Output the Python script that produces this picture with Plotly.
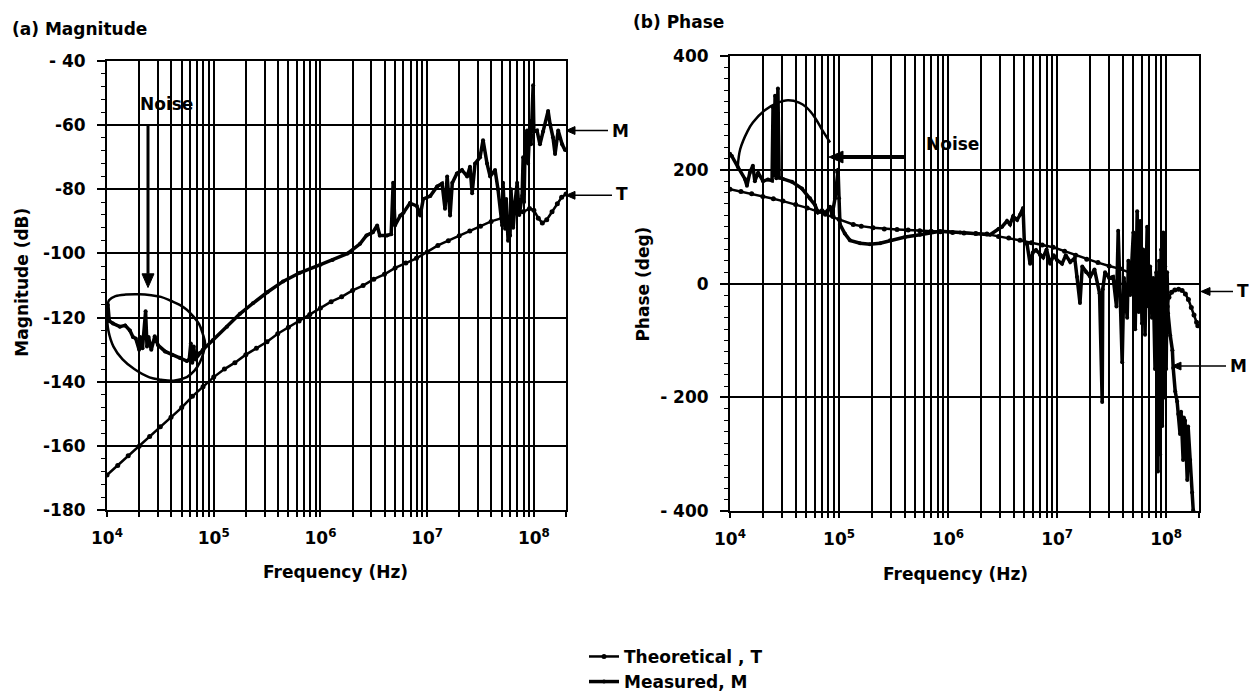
import plotly.graph_objects as go

# ---------------- data ----------------
# (a) Magnitude, theoretical T
magT_f = [1.0e4, 1.26e4, 1.58e4, 2.0e4, 2.51e4, 3.16e4, 3.98e4, 5.01e4, 6.31e4, 7.94e4,
          1.0e5, 1.26e5, 1.58e5, 2.0e5, 2.51e5, 3.16e5, 3.98e5, 5.01e5, 6.31e5, 7.94e5,
          1.0e6, 1.26e6, 1.58e6, 2.0e6, 2.51e6, 3.16e6, 3.98e6, 5.01e6, 6.31e6, 7.94e6,
          1.0e7, 1.26e7, 1.58e7, 2.0e7, 2.51e7, 3.16e7, 3.98e7, 5.01e7, 6.31e7, 7.94e7,
          9.1e7, 1.0e8, 1.1e8, 1.2e8, 1.32e8, 1.48e8, 1.66e8, 1.82e8, 2.0e8]
magT_db = [-169, -166, -163, -160, -157, -154, -151, -148, -144.5, -141.5,
           -138.5, -136, -134, -131.5, -129.5, -127.5, -125, -123, -121, -119,
           -117, -115, -113.5, -111.5, -110, -108, -106.5, -104.5, -103, -101.5,
           -99.5, -97.5, -96, -94.5, -93, -91.5, -90, -89, -88, -87,
           -86, -86.5, -89, -90.5, -89.5, -87, -84.5, -82.5, -81.5]

# (a) Magnitude, measured M
magM_f = [1.0e4, 1.02e4, 1.05e4, 1.14e4, 1.32e4, 1.48e4, 1.64e4, 1.75e4, 1.86e4, 2.0e4,
          2.05e4, 2.15e4, 2.3e4, 2.37e4, 2.45e4, 2.6e4, 2.8e4, 3.0e4, 3.5e4, 4.1e4,
          4.8e4, 5.6e4, 5.9e4, 6.1e4, 6.3e4, 6.5e4, 6.7e4, 7.4e4, 7.9e4, 9.8e4,
          1.33e5, 1.76e5, 2.33e5, 3.2e5, 4.46e5, 6.4e5, 1.0e6, 1.3e6, 1.8e6, 2.35e6,
          2.7e6, 3.1e6, 3.4e6, 3.6e6, 4.2e6, 4.6e6, 4.8e6, 5.0e6, 5.6e6, 6.0e6,
          6.9e6, 8.0e6, 8.6e6, 9.2e6, 1.07e7, 1.24e7, 1.38e7, 1.47e7, 1.54e7, 1.64e7,
          1.72e7, 1.9e7, 2.12e7, 2.37e7, 2.52e7, 2.64e7, 2.81e7, 3.13e7, 3.34e7, 3.64e7,
          3.89e7, 4.33e7, 4.61e7, 5.04e7, 5.14e7, 5.37e7, 5.5e7, 5.73e7, 5.98e7, 6.1e7,
          6.4e7, 6.67e7, 6.97e7, 7.3e7, 7.76e7, 7.93e7, 8.1e7, 8.28e7, 8.63e7, 8.83e7,
          9.2e7, 9.4e7, 9.62e7, 9.84e7, 1.0e8, 1.07e8, 1.14e8, 1.22e8, 1.33e8, 1.36e8,
          1.42e8, 1.51e8, 1.58e8, 1.69e8, 1.84e8, 1.96e8]
magM_db = [-118, -116, -121, -121.8, -122.8, -122.4, -124, -126, -126.5, -130,
           -126, -129.5, -118, -129, -126, -130, -125.8, -128.5, -130.5, -131.6,
           -132.5, -133.5, -133, -128, -134, -129, -133, -131, -130, -127,
           -122.8, -118.8, -115.5, -112, -108.7, -106, -103.5, -102, -100, -97,
           -94.4, -93.4, -91.3, -94.4, -94.4, -94, -78, -91.3, -88.2, -87.3,
           -84.3, -85.2, -88.2, -83, -82.1, -79.1, -78.2, -86.1, -76, -88.2,
           -78, -75.1, -74, -76, -73, -81.2, -72, -70, -64.7, -72,
           -76, -74, -80, -91.3, -78, -92.3, -83, -96, -94.4, -80,
           -92, -84, -78, -88, -82, -70, -84, -65, -61.7, -72,
           -58.7, -66, -58.7, -47.6, -62, -61.7, -66, -62, -57.7, -55.6,
           -59.8, -63.8, -69, -61.7, -66, -67.8]

# hand-drawn "noise" loop on the magnitude plot
magLoop_f = [1.0e4, 1.05e4, 1.2e4, 1.5e4, 2.0e4, 2.6e4, 3.2e4, 4.0e4, 4.8e4, 5.6e4,
             6.4e4, 7.3e4, 7.9e4, 8.3e4, 8.0e4, 7.4e4, 6.6e4, 5.6e4, 4.2e4, 3.2e4,
             2.5e4, 1.8e4, 1.4e4, 1.15e4, 1.03e4, 1.0e4]
magLoop_db = [-117, -114.5, -113.3, -112.8, -112.7, -113, -113.5, -114.8, -116, -117.5,
              -119.5, -122, -125, -128, -131, -134, -136.5, -138.5, -139.6, -139.3,
              -138.6, -136, -133, -129, -124, -119]

# (b) Phase, theoretical T
phT_f = [1.0e4, 1.26e4, 1.58e4, 2.0e4, 2.5e4, 3.06e4, 4.0e4, 5.1e4, 6.3e4, 7.5e4,
         8.8e4, 1.0e5, 1.35e5, 1.6e5, 2.05e5, 2.6e5, 3.4e5, 4.3e5, 5.5e5, 7.0e5,
         8.5e5, 1.1e6, 1.4e6, 1.8e6, 2.27e6, 2.9e6, 3.6e6, 4.57e6, 5.8e6, 7.3e6,
         9.2e6, 1.17e7, 1.48e7, 1.87e7, 2.37e7, 3.0e7, 3.77e7, 4.7e7, 5.75e7, 6.6e7,
         7.6e7, 8.3e7, 9.0e7, 9.6e7, 1.0e8, 1.02e8, 1.06e8, 1.12e8, 1.2e8, 1.3e8,
         1.4e8, 1.5e8, 1.6e8, 1.7e8, 1.8e8, 1.9e8, 1.95e8]
phT_deg = [166, 162, 158, 153, 149, 145, 139, 133, 127, 122,
           118, 113, 104, 101, 98, 96, 95, 94, 93, 92,
           91, 90, 89, 88, 87, 83, 80, 76, 72, 68,
           64, 57, 50, 43, 37, 31, 26, 19, 12, 6,
           0, -20, -45, -65, -70, -40, -24, -15, -11, -10,
           -12, -18, -28, -42, -55, -68, -74]

# (b) Phase, measured M
phM_f = [1.0e4, 1.04e4, 1.18e4, 1.37e4, 1.43e4, 1.52e4, 1.62e4, 1.69e4, 1.81e4, 2.01e4,
         2.23e4, 2.43e4, 2.48e4, 2.52e4, 2.59e4, 2.66e4, 2.75e4, 2.82e4, 3.06e4, 3.7e4,
         4.57e4, 5.42e4, 6.03e4, 6.41e4, 6.98e4, 7.44e4, 7.76e4, 8.27e4, 8.63e4, 9.19e4,
         9.6e4, 9.8e4, 1.0e5, 1.02e5, 1.13e5, 1.26e5, 1.56e5, 1.92e5, 2.38e5, 2.94e5,
         4.03e5, 5.53e5, 8.45e5, 1.29e6, 1.77e6, 2.43e6, 2.9e6, 3.13e6, 3.47e6, 3.7e6,
         3.94e6, 4.3e6, 4.57e6, 4.87e6, 5.0e6, 5.3e6, 5.65e6, 6.0e6, 6.4e6, 7.0e6,
         7.45e6, 8.0e6, 8.63e6, 9.3e6, 1.0e7, 1.11e7, 1.2e7, 1.32e7, 1.45e7, 1.52e7,
         1.62e7, 1.7e7, 1.85e7, 2.01e7, 2.2e7, 2.45e7, 2.59e7, 2.62e7, 2.75e7, 3.0e7,
         3.26e7, 3.5e7, 3.63e7, 3.75e7, 3.95e7, 4.1e7, 4.39e7, 4.5e7, 4.67e7, 5.0e7,
         5.2e7, 5.42e7, 5.6e7, 5.77e7, 6.0e7, 6.15e7, 6.4e7, 6.69e7, 6.9e7, 7.13e7,
         7.4e7, 7.6e7, 7.9e7, 8.1e7, 8.25e7, 8.4e7, 8.6e7, 8.8e7, 9.0e7, 9.2e7,
         9.4e7, 9.6e7, 9.8e7, 1.0e8, 1.02e8, 1.04e8, 1.09e8, 1.14e8, 1.16e8, 1.21e8,
         1.26e8, 1.29e8, 1.34e8, 1.37e8, 1.43e8, 1.45e8, 1.49e8, 1.56e8, 1.59e8, 1.66e8,
         1.73e8, 1.77e8]
phM_deg = [228, 224, 205, 184, 172, 195, 207, 180, 195, 180,
           183, 181, 310, 190, 330, 185, 343, 186, 184, 179,
           167, 150, 138, 125, 129, 124, 127, 135, 120, 150,
           196, 200, 150, 104, 88, 76, 71, 69, 71, 76,
           82, 86, 92, 90, 88, 86, 96, 100, 110, 104,
           118, 112, 121, 133, 75, 69, 35, 55, 59, 50,
           46, 60, 35, 50, 41, 35, 50, 38, 45, 12,
           -34, 30, 20, 12, 25, -17, -208, -10, 20, 10,
           12, -40, 93, 0, -138, 10, -60, 40, -20, 90,
           -80, 127, -50, 110, -70, 60, -90, 100, -40, 30,
           -60, 10, -150, 20, -250, -330, 40, -300, 60, -250,
           90, -200, 30, -150, 20, -52, -91, -117, -148, -189,
           -207, -229, -264, -225, -310, -235, -241, -345, -251, -310,
           -367, -398]

# hand-drawn "noise" arc on the phase plot
phLoop_f = [1.18e4, 1.24e4, 1.45e4, 1.62e4, 2.1e4, 2.7e4, 3.4e4, 4.3e4, 5.0e4, 6.0e4, 7.0e4, 8.27e4]
phLoop_deg = [207, 236, 268, 283, 305, 317, 322, 318, 310, 292, 270, 248]

# axis ticks
x_major_vals = [1e4, 1e5, 1e6, 1e7, 1e8]
x_major_text = ["10<sup>4</sup>", "10<sup>5</sup>", "10<sup>6</sup>", "10<sup>7</sup>", "10<sup>8</sup>"]
x_minor_vals = [m * 10 ** k for k in range(4, 8) for m in range(2, 10)] + [2e8]
mag_ticks = [-180, -160, -140, -120, -100, -80, -60, -40]
mag_ticktext = ["-180", "-160", "-140", "-120", "-100", "-80", "-60", "- 40"]
ph_ticks = [-400, -200, 0, 200, 400]
ph_ticktext = ["- 400", "- 200", "0", "200", "400"]

legend_names = ["Theoretical , T", "Measured, M"]

# ---------------- figure ----------------
W, H = 1249, 700
FONT = "DejaVu Sans, Liberation Sans, sans-serif"
BLACK = "#000000"
FS = 17
GW = 2


def px(x):
    return x / W


def py(y):
    return 1 - y / H


fig = go.Figure()

line_T = dict(color=BLACK, width=2.5)
line_M = dict(color=BLACK, width=3.5)
mk = dict(color=BLACK, size=5)

fig.add_trace(go.Scatter(x=magT_f, y=magT_db, mode="lines+markers", line=line_T, marker=mk,
                         name=legend_names[0], xaxis="x", yaxis="y", showlegend=True))
fig.add_trace(go.Scatter(x=magM_f, y=magM_db, mode="lines+markers", line=line_M,
                         marker=dict(color=BLACK, size=4),
                         name=legend_names[1], xaxis="x", yaxis="y", showlegend=True))
fig.add_trace(go.Scatter(x=magLoop_f, y=magLoop_db, mode="lines", line=dict(color=BLACK, width=2.5),
                         line_shape="spline", xaxis="x", yaxis="y", showlegend=False, hoverinfo="skip"))
fig.add_trace(go.Scatter(x=phT_f, y=phT_deg, mode="lines+markers", line=line_T, marker=mk,
                         xaxis="x2", yaxis="y2", showlegend=False))
fig.add_trace(go.Scatter(x=phM_f, y=phM_deg, mode="lines+markers", line=line_M,
                         marker=dict(color=BLACK, size=4),
                         xaxis="x2", yaxis="y2", showlegend=False))
fig.add_trace(go.Scatter(x=phLoop_f, y=phLoop_deg, mode="lines", line=dict(color=BLACK, width=2.5),
                         line_shape="spline", xaxis="x2", yaxis="y2", showlegend=False, hoverinfo="skip"))

tickfont = dict(family=FONT, size=FS, color=BLACK, weight="bold")


def xaxis_cfg(domain, anchor):
    return dict(type="log", range=[4, 8.30103], domain=domain, anchor=anchor,
                tickmode="array", tickvals=x_major_vals, ticktext=x_major_text,
                showgrid=True, gridcolor=BLACK, gridwidth=GW,
                ticks="outside", ticklen=5, tickwidth=1.5, tickcolor=BLACK,
                minor=dict(tickmode="array", tickvals=x_minor_vals, showgrid=True,
                           gridcolor=BLACK, gridwidth=GW, ticks="outside", ticklen=5,
                           tickwidth=1.5, tickcolor=BLACK),
                showline=True, mirror=True, linecolor=BLACK, linewidth=2,
                zeroline=False, tickfont=tickfont, ticklabelstandoff=6, automargin=False)


def yaxis_cfg(domain, rng, tv, tt, minor_dt, anchor):
    return dict(range=rng, domain=domain, anchor=anchor, tickmode="array", tickvals=tv, ticktext=tt,
                showgrid=True, gridcolor=BLACK, gridwidth=GW,
                ticks="outside", ticklen=8, tickwidth=1.5, tickcolor=BLACK,
                minor=dict(tickmode="linear", tick0=rng[0], dtick=minor_dt, ticks="outside",
                           ticklen=4, tickwidth=1.2, tickcolor=BLACK, showgrid=False),
                showline=True, mirror=True, linecolor=BLACK, linewidth=2,
                zeroline=False, tickfont=tickfont, ticklabelstandoff=8, automargin=False)


fig.update_layout(
    width=W, height=H, autosize=False,
    margin=dict(l=0, r=0, t=0, b=0),
    paper_bgcolor="white", plot_bgcolor="white",
    font=dict(family=FONT, size=FS, color=BLACK),
    xaxis=xaxis_cfg([px(107), px(566)], "y"),
    yaxis=yaxis_cfg([py(520), py(62)], [-180, -40], mag_ticks, mag_ticktext, 4, "x"),
    xaxis2=xaxis_cfg([px(730), px(1199)], "y2"),
    yaxis2=yaxis_cfg([py(521), py(57)], [-400, 400], ph_ticks, ph_ticktext, 20, "x2"),
    showlegend=True,
    legend=dict(x=px(584), y=py(651), xanchor="left", yanchor="top",
                font=dict(family=FONT, size=FS, color=BLACK, weight="bold"),
                bgcolor="rgba(0,0,0,0)", tracegroupgap=0, itemwidth=30),
)

# white label boxes that hide the grid behind the "Noise" callouts
fig.add_shape(type="rect", xref="paper", yref="paper", layer="between",
              x0=px(108), x1=px(161), y0=py(321), y1=py(79),
              fillcolor="white", line=dict(width=0))
fig.add_shape(type="rect", xref="paper", yref="paper", layer="between",
              x0=px(134), x1=px(212), y0=py(127), y1=py(94),
              fillcolor="white", line=dict(width=0))
fig.add_shape(type="rect", xref="paper", yref="paper", layer="between",
              x0=px(832), x1=px(1001), y0=py(170), y1=py(128),
              fillcolor="white", line=dict(width=0))

bold = dict(family=FONT, size=FS, color=BLACK, weight="bold")


def text(x, y, s, xanchor="center", yanchor="middle", angle=0, size=FS):
    f = dict(bold)
    f["size"] = size
    fig.add_annotation(x=px(x), y=py(y), xref="paper", yref="paper", text=s, showarrow=False,
                       xanchor=xanchor, yanchor=yanchor, textangle=angle, font=f)


def arrow(hx, hy, tx, ty, width=2, head=10, half=5):
    # shaft + filled triangular head, drawn as paper-referenced shapes
    dx, dy = tx - hx, ty - hy
    n = (dx * dx + dy * dy) ** 0.5
    ux, uy = dx / n, dy / n
    bx, by = hx + ux * head, hy + uy * head
    fig.add_shape(type="line", xref="paper", yref="paper",
                  x0=px(bx), y0=py(by), x1=px(tx), y1=py(ty),
                  line=dict(color=BLACK, width=width))
    p1 = (bx - uy * half, by + ux * half)
    p2 = (bx + uy * half, by - ux * half)
    path = "M {} {} L {} {} L {} {} Z".format(px(hx), py(hy), px(p1[0]), py(p1[1]),
                                              px(p2[0]), py(p2[1]))
    fig.add_shape(type="path", xref="paper", yref="paper", path=path,
                  fillcolor=BLACK, line=dict(color=BLACK, width=1))


text(10, 30, "(a) Magnitude", xanchor="left")
text(631, 22, "(b) Phase", xanchor="left")
text(22, 288, "Magnitude (dB)", angle=-90)
text(643, 290, "Phase (deg)", angle=-90)
text(335, 583, "Frequency (Hz)")
text(955, 585, "Frequency (Hz)")

text(166, 106, "Noise")
arrow(148, 293, 148, 127, width=3, head=14, half=6)
text(952, 147, "Noise")
arrow(829, 160, 904, 160, width=4, head=14, half=6)

text(610, 133, "M", xanchor="left")
arrow(566, 133, 608, 133, width=1.5, head=9, half=4)
text(614, 198, "T", xanchor="left")
arrow(566, 199, 612, 199, width=1.5, head=9, half=4)

text(1235, 296, "T", xanchor="left")
arrow(1201, 297, 1233, 297, width=1.5, head=9, half=4)
text(1228, 373, "M", xanchor="left")
arrow(1172, 373, 1226, 373, width=1.5, head=9, half=4)

fig.write_html("out.html")
